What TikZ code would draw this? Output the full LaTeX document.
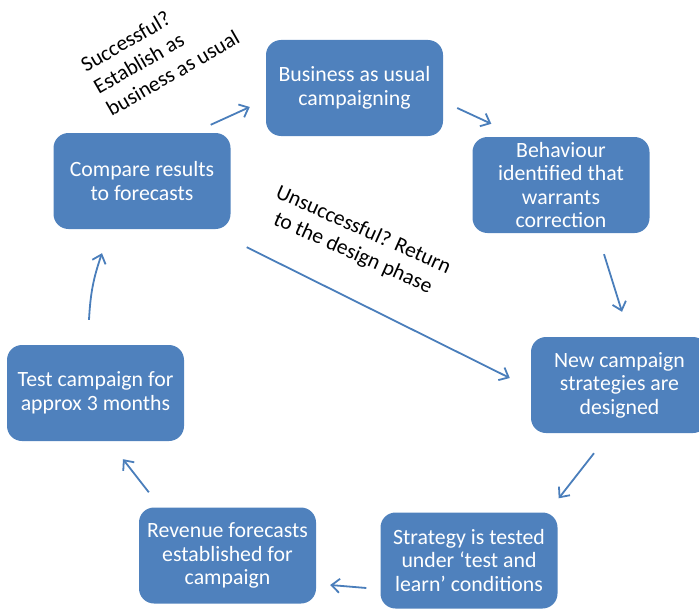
\documentclass[tikz,border=0pt]{standalone}
\usepackage{fontspec}
\setmainfont{Carlito}
\usetikzlibrary{arrows.meta,calc}
\definecolor{boxblue}{HTML}{4F81BD}
\definecolor{arrowblue}{HTML}{4A7EBB}
\tikzset{
  stagebox/.style={draw=none, fill=boxblue, rounded corners=15pt,
    minimum width=177pt, minimum height=96pt, text=white, align=center,
    font=\fontsize{21.8}{23.5}\selectfont, inner sep=0pt},
  flowarrow/.style={draw=arrowblue, line width=1.8pt,
    -{Straight Barb[length=8pt,width=14pt,line width=1.8pt]}},
  remark/.style={text=black, font=\fontsize{21.5}{25.5}\selectfont, inner sep=0pt}
}
\begin{document}
\begin{tikzpicture}[x=1pt,y=-1pt]
\useasboundingbox (0,0) rectangle (699,610);

% stages of the campaign cycle
\node[stagebox] (bau) at (354.5,88) {Business as usual\\campaigning};
\node[stagebox] (beh) at (561,185) {Behaviour\\identified that\\warrants\\correction};
\node[stagebox] (new) at (619.5,385) {New campaign\\strategies are\\designed};
\node[stagebox] (str) at (469,560.5) {Strategy is tested\\under ‘test and\\learn’ conditions};
\node[stagebox] (rev) at (227.5,555.5) {Revenue forecasts\\established for\\campaign};
\node[stagebox] (tst) at (95.5,393) {Test campaign for\\approx 3 months};
\node[stagebox] (cmp) at (142,181) {Compare results\\to forecasts};

% decision notes
\node[remark, rotate=30, align=left] (okay) at (160,51)
  {Successful?\\Establish as\\business as usual};
\node[remark, rotate=-24, align=center] (fail) at (358,242)
  {Unsuccessful? Return\\to the design phase};

% cycle arrows
\draw[flowarrow] ($(cmp.north east)+(-20,-8)$) -- ($(bau.west)+(-16,19)$);
\draw[flowarrow] ($(bau.east)+(14,20)$) -- ($(beh.north west)+(19,-13)$);
\draw[flowarrow] ($(beh.south)+(43,21)$) -- ($(new.north)+(2.5,-25)$);
\draw[flowarrow] ($(new.south)+(-25.5,20)$) -- ($(str.north east)+(1,-14)$);
\draw[flowarrow] ($(str.west)+(-14,27.5)$) -- ($(rev.east)+(14,29.5)$);
\draw[flowarrow] ($(rev.north west)+(10,-15)$) -- ($(tst.south)+(27.5,18)$);
\draw[flowarrow] ($(tst.north)+(-6.5,-25)$) to[bend left=8] ($(cmp.south)+(-40,24)$);
\draw[flowarrow] ($(cmp.south east)+(16,18)$) -- ($(new.west)+(-21,-7)$);
\end{tikzpicture}
\end{document}
